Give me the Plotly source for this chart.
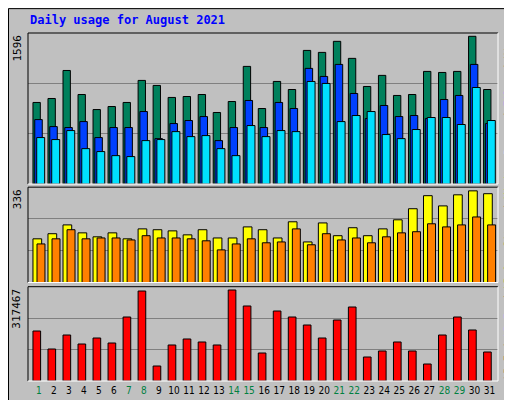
import plotly.graph_objects as go

days = list(range(1, 32))
hits = [862,904,1200,946,787,819,862,1095,1042,915,925,946,756,872,1243,798,1084,999,1412,1391,1508,1328,1031,1148,936,946,1190,1179,1190,1561,999]
files = [681,607,597,660,491,597,597,766,480,639,671,713,459,597,883,597,862,798,1222,1137,1264,957,692,830,713,724,692,893,936,1264,639]
pages = [491,470,565,374,343,300,290,459,470,554,501,512,374,300,618,501,565,554,1084,1063,660,724,766,523,480,576,703,703,629,1020,671]
visits = [154,172,203,175,161,175,154,189,186,182,168,186,157,157,196,186,157,214,143,210,165,193,165,189,221,260,306,270,309,323,313]
sites = [136,154,186,154,157,157,150,165,157,157,154,147,115,136,154,140,143,189,133,172,150,157,140,161,175,179,207,196,203,231,203]
kbytes = [168300,107700,154800,124500,144700,127900,215400,302900,50500,121200,141400,131300,121200,306300,252500,94200,235600,215400,188500,144700,205300,249100,80800,101000,131300,101000,57200,154800,215400,171700,97600]
weekend = [1,7,8,14,15,21,22,28,29]
max_hits, max_visits, max_kb = 1596, 336, 317467

fig = go.Figure()
def bar(y, color, off, w, ax):
    fig.add_trace(go.Bar(x=days, y=y, marker=dict(color=color, line=dict(color="black", width=1)),
                         offset=off, width=w, xaxis="x" + ax if ax != "1" else "x",
                         yaxis="y" + ax if ax != "1" else "y", showlegend=False))
bar(hits, "#00805c", -0.39, 0.49, "1")
bar(files, "#0040ff", -0.27, 0.5, "1")
bar(pages, "#00e0ff", -0.14, 0.53, "1")
bar(visits, "#ffff00", -0.39, 0.58, "2")
bar(sites, "#ff8000", -0.12, 0.53, "2")
bar(kbytes, "#ff0000", -0.39, 0.51, "3")

ticktext = [f'<span style="color:#008040">{d}</span>' if d in weekend else str(d) for d in days]
xr = [0.28, 31.57]
common_x = dict(range=xr, showgrid=False, zeroline=False, fixedrange=True)
fig.update_layout(
    width=512, height=400, margin=dict(l=20, r=22, t=25, b=25),
    paper_bgcolor="#c0c0c0", plot_bgcolor="#c0c0c0", barmode="overlay",
    font=dict(family="DejaVu Sans Mono", size=11, color="black"),
    xaxis=dict(**common_x, anchor="y", showticklabels=False),
    xaxis2=dict(**common_x, anchor="y2", matches="x", showticklabels=False),
    xaxis3=dict(**common_x, anchor="y3", matches="x", tickvals=days, ticktext=ticktext,
                tickfont=dict(size=10, family="DejaVu Sans Condensed"), tickangle=0, ticks="", ticklabelstandoff=2),
    yaxis=dict(domain=[0.566, 1], range=[0, max_hits], tickvals=[max_hits/3, 2*max_hits/3],
               showticklabels=False, gridcolor="#808080", zeroline=False),
    yaxis2=dict(domain=[0.283, 0.557], range=[0, max_visits], tickvals=[max_visits/3, 2*max_visits/3],
                showticklabels=False, gridcolor="#808080", zeroline=False),
    yaxis3=dict(domain=[0, 0.271], range=[0, max_kb], tickvals=[max_kb/3, 2*max_kb/3],
                showticklabels=False, gridcolor="#808080", zeroline=False),
)
shapes = []
for d0, d1 in [(0.566, 1), (0.283, 0.557), (0, 0.271)]:
    shapes.append(dict(type="line", xref="paper", yref="paper", x0=0, x1=0, y0=d0, y1=d1, line=dict(color="black", width=1)))
    shapes.append(dict(type="line", xref="paper", yref="paper", x0=0, x1=1, y0=d1, y1=d1, line=dict(color="black", width=1)))
    shapes.append(dict(type="line", xref="paper", yref="paper", x0=1, x1=1, y0=d0, y1=d1, line=dict(color="white", width=1)))
    shapes.append(dict(type="line", xref="paper", yref="paper", x0=0, x1=1, y0=d0, y1=d0, line=dict(color="white", width=1)))
shapes.append(dict(type="rect", xref="paper", yref="paper", x0=-19.5/470, x1=491.5/470, y0=-24.5/350, y1=374.5/350,
                   line=dict(color="black", width=1)))
shapes.append(dict(type="line", xref="paper", yref="paper", x0=-17/470, x1=489/470, y0=-22/350, y1=-22/350, line=dict(color="#808080", width=2)))
shapes.append(dict(type="line", xref="paper", yref="paper", x0=489/470, x1=489/470, y0=-22/350, y1=372/350, line=dict(color="#808080", width=2)))
fig.update_layout(shapes=shapes)

ann = [
    dict(text="<b>Daily usage for August 2021</b>", x=0, y=1.0 + 13/350, xref="paper", yref="paper",
         xanchor="left", yanchor="middle", showarrow=False, font=dict(color="#0000ff", size=12)),
    dict(text=str(max_hits), x=-11/470, y=1, xref="paper", yref="paper", textangle=-90, xanchor="center",
         yanchor="top", showarrow=False),
    dict(text=str(max_visits), x=-11/470, y=0.557, xref="paper", yref="paper", textangle=-90, xanchor="center",
         yanchor="top", showarrow=False),
    dict(text=str(max_kb), x=-11/470, y=0.271, xref="paper", yref="paper", textangle=-90, xanchor="center",
         yanchor="top", showarrow=False),
    dict(text='<span style="color:#00e0ff">Pages</span> / <span style="color:#0040ff">Files</span> / <span style="color:#00805c">Hits</span>',
         x=1 + 10/470, y=1, xref="paper", yref="paper", textangle=-90, xanchor="center", yanchor="top",
         showarrow=False, font=dict(size=10)),
    dict(text='<span style="color:#ff0000">kB F</span> / <span style="color:#0080ff">kB In</span> / <span style="color:#00c000">kB Out</span> <span style="color:#ff8000">Sites</span> / <span style="color:#ffff00">Visits</span>',
         x=1 + 10/470, y=0, xref="paper", yref="paper", textangle=-90, xanchor="center", yanchor="bottom",
         showarrow=False, font=dict(size=10)),
]
fig.update_layout(annotations=ann)
fig.write_html("out.html")
